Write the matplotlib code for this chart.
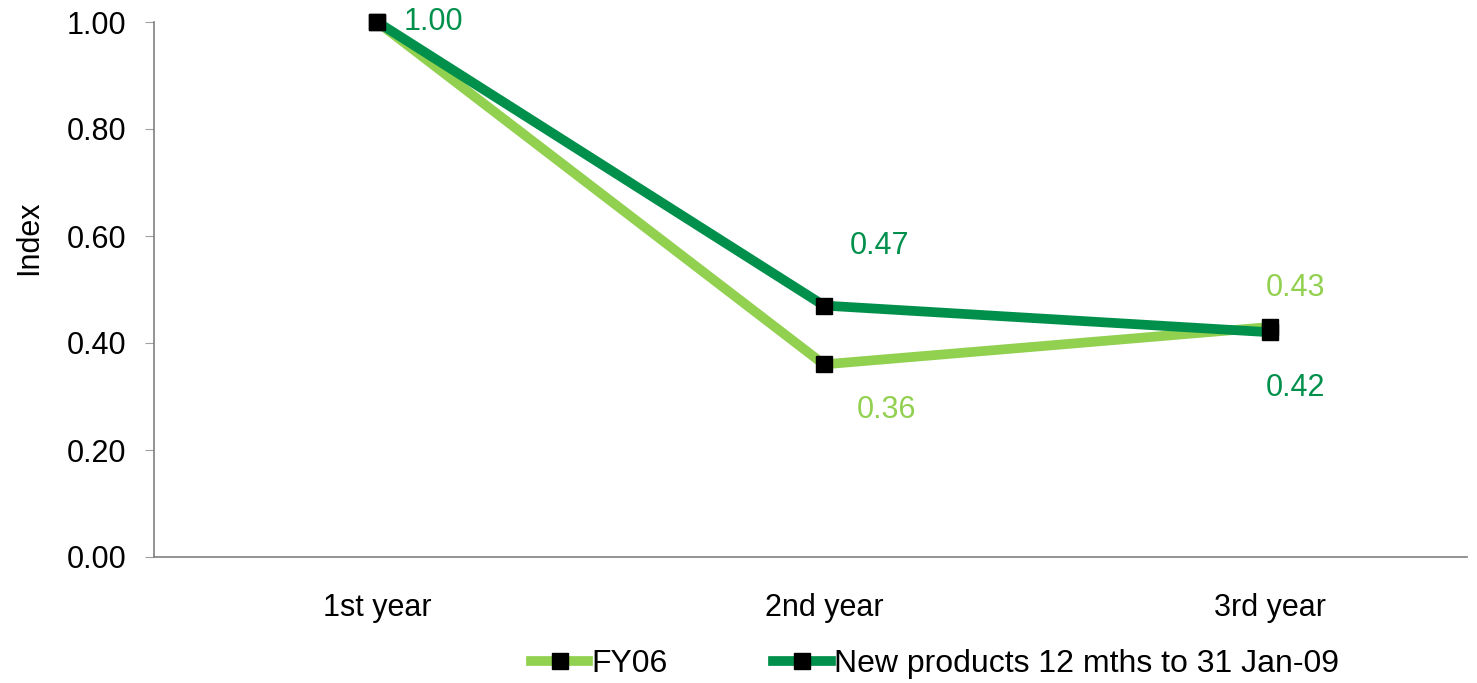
import matplotlib
matplotlib.use("Agg")
import matplotlib.pyplot as plt

plt.rcParams['font.family'] = ['Liberation Sans', 'DejaVu Sans']

years = ['1st year', '2nd year', '3rd year']
fy06 = [1.00, 0.36, 0.43]
new_products = [1.00, 0.47, 0.42]
yticks = [0.0, 0.2, 0.4, 0.6, 0.8, 1.0]

light = '#92D050'
dark = '#00904C'
fs = 22

fig = plt.figure(figsize=(14.77, 6.83), dpi=100)
ax = fig.add_axes([154 / 1477, 1 - 557 / 683, (1467 - 154) / 1477, (557 - 22) / 683])

x = range(len(years))
ax.plot(x, fy06, color=light, lw=7, marker='s', ms=11, mfc='black', mec='black',
        label='FY06', solid_joinstyle='miter', clip_on=False)
ax.plot(x, new_products, color=dark, lw=7, marker='s', ms=11, mfc='black', mec='black',
        label='New products 12 mths to 31 Jan-09', solid_joinstyle='miter', clip_on=False)

# value labels (offsets in points)
labels = [
    (0, new_products[0], dark, (19, 0), 'left'),
    (1, new_products[1], dark, (40, 43), 'center'),
    (1, fy06[1], light, (45, -33), 'center'),
    (2, fy06[2], light, (18, 28), 'center'),
    (2, new_products[2], dark, (18, -40), 'center'),
]
for xi, v, c, off, ha in labels:
    ax.annotate('%.2f' % v, (xi, v), xytext=off, textcoords='offset points',
                color=c, fontsize=fs, va='center', ha=ha)

ax.set_xlim(-0.5, 2.44)
ax.set_ylim(0, 1.0)
ax.set_yticks(yticks)
ax.set_yticklabels(['%.2f' % v for v in yticks], fontsize=fs)
ax.set_xticks(list(x))
ax.set_xticklabels(years, fontsize=fs)
ax.tick_params(axis='x', length=0, pad=26)
ax.tick_params(axis='y', length=6.5, color='#a0a0a0', pad=13.5)
fig.text(29 / 1477, 1 - 238 / 683, 'Index', fontsize=fs, rotation=90,
         ha='center', va='center')

for s in ['top', 'right']:
    ax.spines[s].set_visible(False)
for s in ['left', 'bottom']:
    ax.spines[s].set_color('#808080')
    ax.spines[s].set_linewidth(1.2)

fig.legend(loc='center', bbox_to_anchor=(935 / 1477, 1 - 664 / 683), ncol=2,
           frameon=False, fontsize=23, handlelength=1.8, handletextpad=0.1,
           columnspacing=3.3, borderpad=0)

fig.savefig('out.png', dpi=100)
